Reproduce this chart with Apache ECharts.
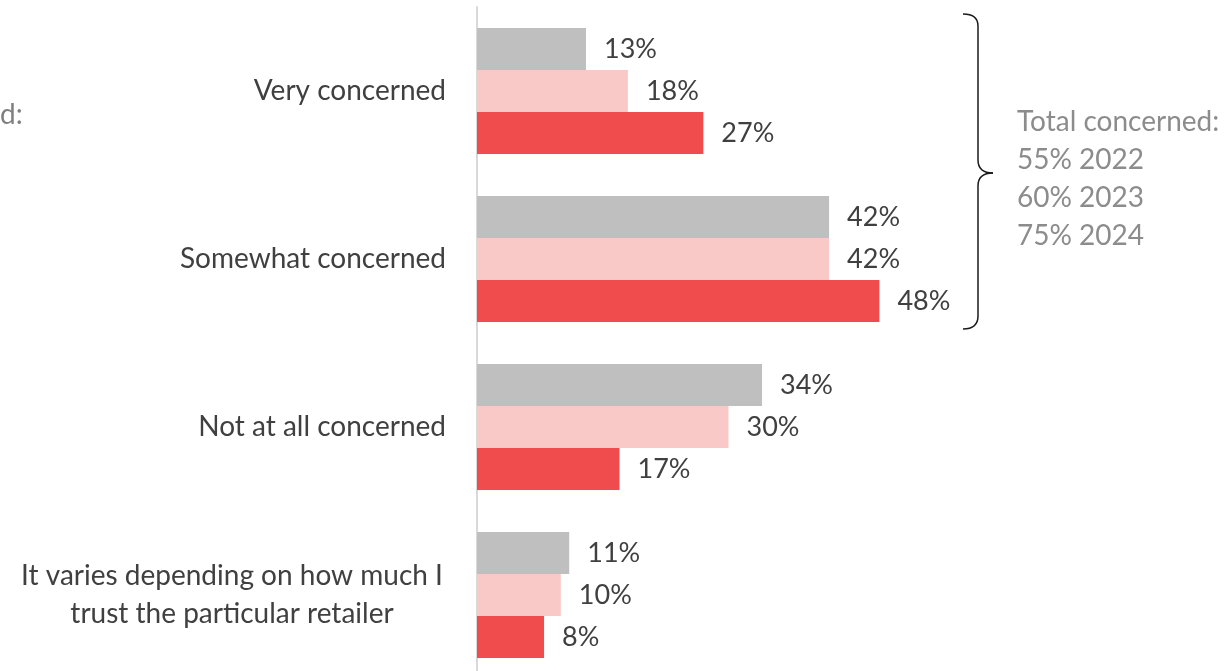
<!DOCTYPE html>
<html>
<head>
<meta charset="utf-8">
<script src="https://cdn.jsdelivr.net/npm/echarts@6/dist/echarts.min.js"></script>
<style>
  html, body { margin: 0; padding: 0; background: #ffffff; }
  #chart { width: 1228px; height: 671px; }
</style>
</head>
<body>
<div id="chart"></div>
<script>
// Level of concern, by survey year
const categories = [
  'Very concerned',
  'Somewhat concerned',
  'Not at all concerned',
  'It varies depending on how much I\ntrust the particular retailer'
];
const years = ['2022', '2023', '2024'];
const values2022 = [13, 42, 34, 11];
const values2023 = [18, 42, 30, 10];
const values2024 = [27, 48, 17, 8];
const totalLines = ['Total concerned:', '55% 2022', '60% 2023', '75% 2024'];

const colors = ['#bfbfbf', '#f9c9c7', '#f04b4d'];
const FONT = 'Lato, "Open Sans", sans-serif';

const chart = echarts.init(document.getElementById('chart'), null, { renderer: 'canvas' });

function barSeries(name, data, color) {
  return {
    name: name,
    type: 'bar',
    data: data,
    barGap: '0%',
    barCategoryGap: '25%',
    itemStyle: { color: color },
    label: {
      show: true,
      position: 'right',
      distance: 18,
      formatter: '{c}%',
      color: '#404040',
      fontSize: 27,
      fontFamily: FONT
    },
    emphasis: { disabled: true }
  };
}

// curly brace grouping the two "concerned" answers
const braceStyle = { fill: null, stroke: '#1a1a1a', lineWidth: 1.5 };
const brace = [
  { type: 'bezierCurve', shape: { x1: 963, y1: 14, cpx1: 978, cpy1: 14, x2: 978, y2: 26 }, style: braceStyle },
  { type: 'line', shape: { x1: 978, y1: 26, x2: 978, y2: 160 }, style: braceStyle },
  { type: 'bezierCurve', shape: { x1: 978, y1: 160, cpx1: 978, cpy1: 173, x2: 993, y2: 173 }, style: braceStyle },
  { type: 'bezierCurve', shape: { x1: 993, y1: 173, cpx1: 978, cpy1: 173, x2: 978, y2: 186 }, style: braceStyle },
  { type: 'line', shape: { x1: 978, y1: 186, x2: 978, y2: 316 }, style: braceStyle },
  { type: 'bezierCurve', shape: { x1: 978, y1: 316, cpx1: 978, cpy1: 329, x2: 963, y2: 329 }, style: braceStyle }
];

// two-line category names are centred line by line; the right padding
// moves the centred block left so it sits beside the others
const categoryItems = categories.map(function (c) {
  if (c.indexOf('\n') < 0) return c;
  return { value: c, textStyle: { align: 'center', padding: [0, 428, 0, 0] } };
});

chart.setOption({
  animation: false,
  grid: {
    left: 477, width: 503, top: 7, height: 672,
    containLabel: false,
    outerBoundsMode: 'none'
  },
  xAxis: {
    type: 'value',
    min: 0,
    max: 60,
    show: false
  },
  yAxis: {
    type: 'category',
    data: categoryItems,
    inverse: true,
    axisLine: { show: true, lineStyle: { color: '#d9d9d9', width: 2 } },
    axisTick: { show: false },
    axisLabel: {
      margin: 31,
      color: '#404040',
      fontSize: 28,
      lineHeight: 38,
      align: 'right',
      fontFamily: FONT
    }
  },
  series: [
    barSeries(years[0], values2022, colors[0]),
    barSeries(years[1], values2023, colors[1]),
    barSeries(years[2], values2024, colors[2])
  ],
  graphic: brace.concat([
    {
      type: 'text',
      x: 0,
      y: 101,
      style: { text: 'd:', fill: '#7f7f7f', font: '28px ' + FONT }
    },
    {
      type: 'text',
      x: 1017,
      y: 103,
      style: {
        text: totalLines.join('\n'),
        fill: '#8c8c8c',
        font: '28px ' + FONT,
        lineHeight: 38
      }
    }
  ])
});
</script>
</body>
</html>
